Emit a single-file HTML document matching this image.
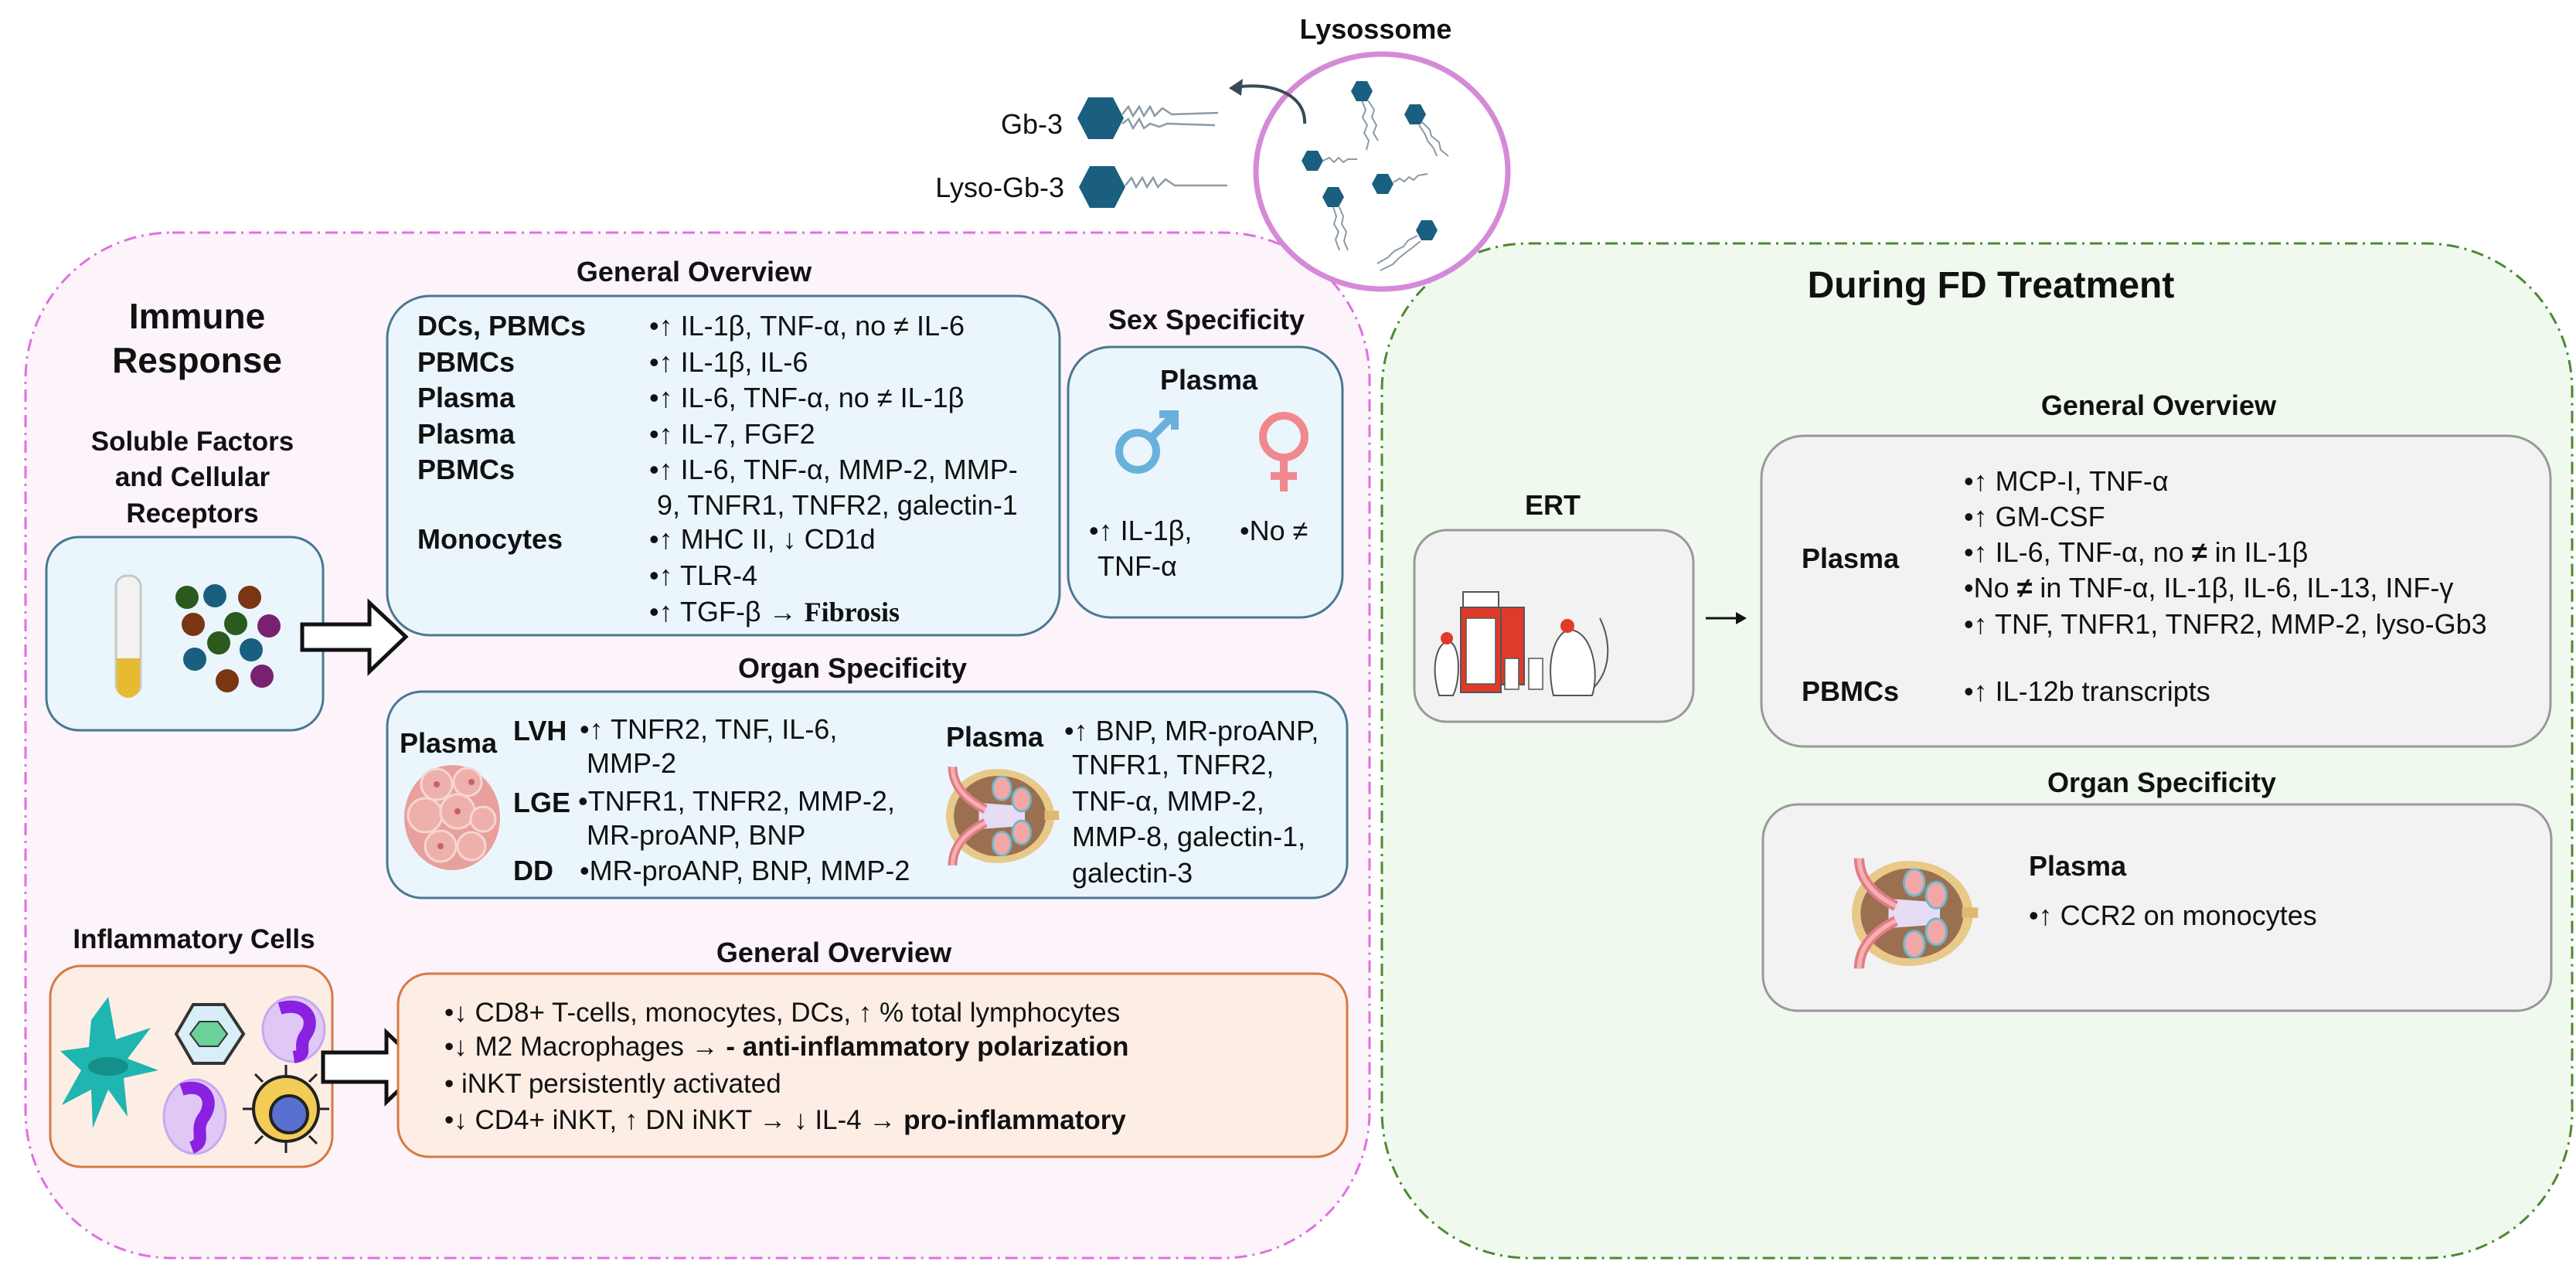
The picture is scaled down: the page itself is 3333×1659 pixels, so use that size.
<!DOCTYPE html>
<html><head><meta charset="utf-8"><style>
html,body{margin:0;padding:0;background:#fff;}
svg{display:block;}
text{font-family:"Liberation Sans",Arial,sans-serif;fill:#111;}
.b{font-weight:bold;}
</style></head><body>
<svg width="3333" height="1659" viewBox="0 0 3333 1659" xmlns="http://www.w3.org/2000/svg">
<defs>
<g id="kid">
  <path d="M-20,-70 C40,-80 85,-40 85,0 C85,40 40,80 -20,70 C-60,60 -80,30 -80,0 C-80,-30 -60,-60 -20,-70Z" fill="#e8c98a"/>
  <path d="M-15,-60 C35,-68 72,-35 72,0 C72,35 35,68 -15,60 C-50,52 -68,25 -68,0 C-68,-25 -50,-52 -15,-60Z" fill="#9a7050"/>
  <rect x="70" y="-8" width="22" height="14" fill="#e0b870"/>
  <path d="M-30,-20 L40,-15 L40,15 L-30,20Z" fill="#e6dcf4"/>
  <ellipse cx="5" cy="-42" rx="14" ry="18" fill="#f2a7a7" stroke="#6ab8d0" stroke-width="3"/>
  <ellipse cx="35" cy="-25" rx="14" ry="18" fill="#f2a7a7" stroke="#6ab8d0" stroke-width="3"/>
  <ellipse cx="35" cy="25" rx="14" ry="18" fill="#f2a7a7" stroke="#6ab8d0" stroke-width="3"/>
  <ellipse cx="5" cy="42" rx="14" ry="18" fill="#f2a7a7" stroke="#6ab8d0" stroke-width="3"/>
  <path d="M-70,-75 C-70,-40 -40,-20 -20,-10 M-70,75 C-70,40 -40,20 -20,10" stroke="#e07c86" stroke-width="14" fill="none"/>
  <path d="M-70,-75 C-70,-40 -40,-20 -20,-10 M-70,75 C-70,40 -40,20 -20,10" stroke="#f6b0b0" stroke-width="6" fill="none"/>
</g>
<g id="hx"><polygon points="-14,0 -7,-13 7,-13 14,0 7,13 -7,13" fill="#1a5f80"/></g>
</defs>

<!-- Pink big box -->
<rect x="33" y="301" width="1739" height="1327" rx="190" fill="#fcf3fb" stroke="#e070e0" stroke-width="3" stroke-dasharray="16 7 3 7"/>
<!-- Green big box -->
<rect x="1788" y="315" width="1540" height="1313" rx="190" fill="#f0f9ee" stroke="#4a8a32" stroke-width="3" stroke-dasharray="16 7 3 7"/>

<!-- Lysosome -->
<text x="1780" y="50" font-size="36" class="b" text-anchor="middle">Lysossome</text>
<ellipse cx="1788" cy="222" rx="163" ry="152" fill="#fff" stroke="#d58ad8" stroke-width="7"/>
<g stroke="#8a9aa4" stroke-width="2" fill="none">
<path d="M1762,130 l5,12 l-4,10 l6,10 l-4,10 l6,10 l-3,12 M1770,130 l8,12 l-3,10 l6,10 l-4,10 l6,10"/>
<path d="M1840,158 l10,10 l2,8 l10,8 l2,10 l10,8 M1836,162 l8,12 l3,8 l8,10 l4,10"/>
<path d="M1712,208 l8,-4 l6,6 l6,-6 l6,6 l6,-4 l12,0"/>
<path d="M1803,236 l8,-5 l6,4 l6,-6 l6,4 l6,-6 l12,-2"/>
<path d="M1725,268 l4,12 l-3,10 l6,10 l-4,10 l5,14 M1733,268 l5,12 l-2,10 l6,10 l-3,12 l5,12"/>
<path d="M1834,305 l-12,6 l-6,8 l-12,6 l-8,8 l-14,8 M1838,312 l-10,8 l-8,6 l-10,8 l-8,8 l-16,8"/>
</g>
<use href="#hx" x="1762" y="118"/><use href="#hx" x="1831" y="148"/><use href="#hx" x="1698" y="208"/>
<use href="#hx" x="1789" y="238"/><use href="#hx" x="1725" y="255"/><use href="#hx" x="1846" y="298"/>
<!-- free Gb3 -->
<text x="1375" y="173" font-size="36" text-anchor="end">Gb-3</text>
<text x="1377" y="255" font-size="36" text-anchor="end">Lyso-Gb-3</text>
<polygon points="1394,153 1408,126 1440,126 1454,153 1440,180 1408,180" fill="#1a5f80"/>
<polygon points="1396,242 1410,215 1442,215 1456,242 1442,269 1410,269" fill="#1a5f80"/>
<g stroke="#8a9aa4" stroke-width="2.5" fill="none">
<path d="M1452,148 l8,-10 l6,12 l8,-12 l6,12 l8,-12 l6,12 l10,-10 l12,8 l60,-2"/>
<path d="M1452,160 l8,-6 l6,12 l8,-12 l6,12 l8,-6 l12,4 l10,-4 l62,2"/>
<path d="M1456,240 l8,-10 l6,12 l8,-12 l6,12 l8,-12 l6,12 l10,-10 l12,8 l68,0"/>
</g>
<path d="M1688,160 C1690,125 1650,105 1598,113" stroke="#3a4a55" stroke-width="4" fill="none"/>
<polygon points="1590,114 1608,102 1606,124" fill="#3a4a55"/>

<!-- Immune response titles -->
<text x="255" y="425" font-size="46" class="b" text-anchor="middle">Immune</text>
<text x="255" y="482" font-size="46" class="b" text-anchor="middle">Response</text>
<text x="249" y="583" font-size="35" class="b" text-anchor="middle">Soluble Factors</text>
<text x="249" y="629" font-size="35" class="b" text-anchor="middle">and Cellular</text>
<text x="249" y="676" font-size="35" class="b" text-anchor="middle">Receptors</text>

<!-- tube box -->
<rect x="60" y="695" width="358" height="250" rx="42" fill="#eaf6fc" stroke="#4a7890" stroke-width="3"/>
<rect x="150" y="745" width="32" height="155" rx="14" fill="#f2f2f2" stroke="#c8c8c8" stroke-width="3"/>
<path d="M151,852 L181,852 L181,888 A15,15 0 0 1 151,888Z" fill="#e6bb30"/>
<g>
<circle cx="242" cy="773" r="15" fill="#2a5a1e"/><circle cx="278" cy="771" r="15" fill="#1a5f80"/><circle cx="323" cy="773" r="15" fill="#7a3512"/>
<circle cx="250" cy="808" r="15" fill="#7a3512"/><circle cx="305" cy="807" r="15" fill="#2a5a1e"/><circle cx="348" cy="810" r="15" fill="#7a2070"/>
<circle cx="283" cy="832" r="15" fill="#2a5a1e"/><circle cx="325" cy="841" r="15" fill="#1a5f80"/><circle cx="252" cy="853" r="15" fill="#1a5f80"/>
<circle cx="294" cy="881" r="15" fill="#7a3512"/><circle cx="339" cy="875" r="15" fill="#7a2070"/>
</g>
<polygon points="391,808 478,808 478,780 525,824 478,869 478,841 391,841" fill="#fff" stroke="#111" stroke-width="5"/>

<!-- General overview 1 -->
<text x="898" y="364" font-size="36" class="b" text-anchor="middle">General Overview</text>
<rect x="501" y="383" width="870" height="439" rx="55" fill="#eaf6fc" stroke="#4a7890" stroke-width="3"/>
<g font-size="36">
<text x="540" y="434" class="b">DCs, PBMCs</text><text x="840" y="434">•↑ IL-1β, TNF-α, no ≠ IL-6</text>
<text x="540" y="481" class="b">PBMCs</text><text x="840" y="481">•↑ IL-1β, IL-6</text>
<text x="540" y="527" class="b">Plasma</text><text x="840" y="527">•↑ IL-6, TNF-α, no ≠ IL-1β</text>
<text x="540" y="574" class="b">Plasma</text><text x="840" y="574">•↑ IL-7, FGF2</text>
<text x="540" y="620" class="b">PBMCs</text><text x="840" y="620">•↑ IL-6, TNF-α, MMP-2, MMP-</text>
<text x="850" y="666">9, TNFR1, TNFR2, galectin-1</text>
<text x="540" y="710" class="b">Monocytes</text><text x="840" y="710">•↑ MHC II, ↓ CD1d</text>
<text x="840" y="757">•↑ TLR-4</text>
<text x="840" y="804">•↑ TGF-β → <tspan font-family="Liberation Serif, serif" font-weight="bold">Fibrosis</tspan></text>
</g>

<!-- Sex specificity -->
<text x="1561" y="426" font-size="36" class="b" text-anchor="middle">Sex Specificity</text>
<rect x="1382" y="449" width="355" height="350" rx="55" fill="#eaf6fc" stroke="#4a7890" stroke-width="3"/>
<text x="1564" y="504" font-size="36" class="b" text-anchor="middle">Plasma</text>
<circle cx="1472" cy="584" r="24" fill="none" stroke="#6ab0dc" stroke-width="10"/>
<path d="M1489,567 L1518,538 M1500,536 L1520,536 L1520,556" stroke="#6ab0dc" stroke-width="10" fill="none"/>
<circle cx="1661" cy="565" r="27" fill="none" stroke="#f0888e" stroke-width="10"/>
<path d="M1661,592 L1661,636 M1644,616 L1678,616" stroke="#f0888e" stroke-width="10"/>
<text x="1409" y="699" font-size="36">•↑ IL-1β,</text>
<text x="1420" y="745" font-size="36">TNF-α</text>
<text x="1604" y="699" font-size="36">•No ≠</text>

<!-- Organ specificity 1 -->
<text x="1103" y="877" font-size="36" class="b" text-anchor="middle">Organ Specificity</text>
<rect x="501" y="895" width="1242" height="267" rx="45" fill="#eaf6fc" stroke="#4a7890" stroke-width="3"/>
<g>
<ellipse cx="585" cy="1058" rx="62" ry="68" fill="#e8a09c"/>
<g fill="#eeb0aa" stroke="#f6d6d0" stroke-width="3">
<circle cx="565" cy="1015" r="20"/><circle cx="605" cy="1012" r="18"/><circle cx="550" cy="1055" r="22"/><circle cx="592" cy="1050" r="22"/>
<circle cx="625" cy="1060" r="16"/><circle cx="570" cy="1095" r="20"/><circle cx="610" cy="1095" r="18"/>
</g>
<g fill="#c86070"><circle cx="565" cy="1015" r="4"/><circle cx="592" cy="1050" r="4"/><circle cx="570" cy="1095" r="4"/><circle cx="610" cy="1012" r="4"/></g>
</g>
<g font-size="36">
<text x="580" y="974" class="b" text-anchor="middle">Plasma</text>
<text x="664" y="958" class="b">LVH</text><text x="750" y="956">•↑ TNFR2, TNF, IL-6,</text>
<text x="759" y="1000">MMP-2</text>
<text x="664" y="1051" class="b">LGE</text><text x="748" y="1049">•TNFR1, TNFR2, MMP-2,</text>
<text x="759" y="1093">MR-proANP, BNP</text>
<text x="664" y="1139" class="b">DD</text><text x="750" y="1139">•MR-proANP, BNP, MMP-2</text>
<text x="1287" y="966" class="b" text-anchor="middle">Plasma</text>
<text x="1377" y="958">•↑ BNP, MR-proANP,</text>
<text x="1387" y="1002">TNFR1, TNFR2,</text>
<text x="1387" y="1049">TNF-α, MMP-2,</text>
<text x="1387" y="1095">MMP-8, galectin-1,</text>
<text x="1387" y="1142">galectin-3</text>
</g>
<use href="#kid" transform="translate(1292,1056) scale(0.85)"/>

<!-- Inflammatory cells -->
<text x="251" y="1227" font-size="35" class="b" text-anchor="middle">Inflammatory Cells</text>
<rect x="65" y="1250" width="365" height="260" rx="40" fill="#fdeee5" stroke="#d77a45" stroke-width="3"/>
<path d="M140,1290 L150,1345 L195,1330 L165,1370 L205,1385 L160,1395 L165,1445 L140,1410 L120,1460 L118,1410 L80,1430 L105,1385 L78,1360 L115,1355 L118,1320Z" fill="#1fb5b0"/>
<ellipse cx="140" cy="1380" rx="26" ry="12" fill="#148f8a"/>
<polygon points="250,1300 290,1300 315,1338 290,1376 250,1376 228,1338" fill="#d8eef8" stroke="#333" stroke-width="4"/>
<polygon points="258,1322 282,1322 294,1338 282,1354 258,1354 246,1338" fill="#6cd09a" stroke="#333" stroke-width="2"/>
<ellipse cx="380" cy="1332" rx="40" ry="42" fill="#e0c8f6" stroke="#c8a8f0" stroke-width="3"/>
<path d="M362,1305 C395,1295 410,1320 395,1340 C385,1355 400,1365 380,1368" stroke="#8a20e0" stroke-width="16" fill="none"/>
<ellipse cx="252" cy="1445" rx="40" ry="48" fill="#e0c8f6" stroke="#c8a8f0" stroke-width="3"/>
<path d="M235,1410 C265,1400 280,1425 262,1448 C252,1465 268,1478 248,1485" stroke="#8a20e0" stroke-width="16" fill="none"/>
<circle cx="370" cy="1435" r="42" fill="#f3cc55" stroke="#222" stroke-width="4"/>
<circle cx="374" cy="1442" r="24" fill="#5870d0" stroke="#222" stroke-width="4"/>
<g stroke="#222" stroke-width="3"><path d="M340,1400 l-10,-10 M370,1392 l0,-14 M400,1400 l10,-10 M412,1435 l14,0 M400,1470 l10,10 M370,1478 l0,14 M340,1470 l-10,10 M328,1435 l-14,0"/></g>
<polygon points="418,1362 500,1362 500,1336 547,1381 500,1426 500,1400 418,1400" fill="#fff" stroke="#111" stroke-width="5"/>

<text x="1079" y="1245" font-size="36" class="b" text-anchor="middle">General Overview</text>
<rect x="515" y="1260" width="1228" height="237" rx="40" fill="#fdeee5" stroke="#d77a45" stroke-width="3"/>
<g font-size="35">
<text x="575" y="1322">•↓ CD8+ T-cells, monocytes, DCs, ↑ % total lymphocytes</text>
<text x="575" y="1366">•↓ M2 Macrophages → <tspan class="b">- anti-inflammatory polarization</tspan></text>
<text x="575" y="1414">• iNKT persistently activated</text>
<text x="575" y="1461">•↓ CD4+ iNKT, ↑ DN iNKT → ↓ IL-4 → <tspan class="b">pro-inflammatory</tspan></text>
</g>

<!-- Right side -->
<text x="2576" y="385" font-size="48" class="b" text-anchor="middle">During FD Treatment</text>
<text x="2009" y="666" font-size="36" class="b" text-anchor="middle">ERT</text>
<rect x="1830" y="686" width="361" height="248" rx="42" fill="#f2f2f2" stroke="#999" stroke-width="3"/>
<g>
<rect x="1893" y="766" width="46" height="20" fill="#fff" stroke="#555" stroke-width="2"/>
<rect x="1890" y="786" width="52" height="110" fill="#e03a2a" stroke="#555" stroke-width="2"/>
<rect x="1897" y="800" width="38" height="85" fill="#fff" stroke="#555" stroke-width="1.5"/>
<rect x="1942" y="786" width="30" height="100" fill="#e03a2a" stroke="#555" stroke-width="2"/>
<rect x="1947" y="852" width="18" height="40" fill="#fff" stroke="#555" stroke-width="1.5"/>
<rect x="1978" y="852" width="18" height="40" fill="#fff" stroke="#555" stroke-width="1.5"/>
<path d="M1862,900 C1850,860 1860,830 1875,830 C1890,835 1890,880 1880,900Z" fill="#fff" stroke="#555" stroke-width="2"/>
<circle cx="1872" cy="826" r="8" fill="#e03a2a"/>
<path d="M2010,900 C2000,860 2010,820 2030,815 C2060,815 2070,870 2060,900Z" fill="#fff" stroke="#555" stroke-width="2"/>
<circle cx="2028" cy="810" r="9" fill="#e03a2a"/>
<path d="M2062,890 C2090,860 2080,820 2070,800" stroke="#555" stroke-width="2" fill="none"/>
</g>
<line x1="2207" y1="800" x2="2252" y2="800" stroke="#111" stroke-width="3"/>
<polygon points="2260,800 2246,792 2246,808" fill="#111"/>

<text x="2793" y="537" font-size="36" class="b" text-anchor="middle">General Overview</text>
<rect x="2279" y="564" width="1021" height="402" rx="55" fill="#f2f2f2" stroke="#999" stroke-width="3"/>
<g font-size="36">
<text x="2331" y="735" class="b">Plasma</text>
<text x="2541" y="635">•↑ MCP-I, TNF-α</text>
<text x="2541" y="681">•↑ GM-CSF</text>
<text x="2541" y="727">•↑ IL-6, TNF-α, no <tspan class="b">≠</tspan> in IL-1β</text>
<text x="2541" y="773">•No <tspan class="b">≠</tspan> in TNF-α, IL-1β, IL-6, IL-13, INF-γ</text>
<text x="2541" y="820">•↑ TNF, TNFR1, TNFR2, MMP-2, lyso-Gb3</text>
<text x="2331" y="907" class="b">PBMCs</text>
<text x="2541" y="907">•↑ IL-12b transcripts</text>
</g>

<text x="2797" y="1025" font-size="36" class="b" text-anchor="middle">Organ Specificity</text>
<rect x="2281" y="1041" width="1020" height="267" rx="45" fill="#f2f2f2" stroke="#999" stroke-width="3"/>
<use href="#kid" transform="translate(2472,1182) scale(0.95)"/>
<text x="2625" y="1133" font-size="36" class="b">Plasma</text>
<text x="2625" y="1197" font-size="36">•↑ CCR2 on monocytes</text>
</svg>
</body></html>
